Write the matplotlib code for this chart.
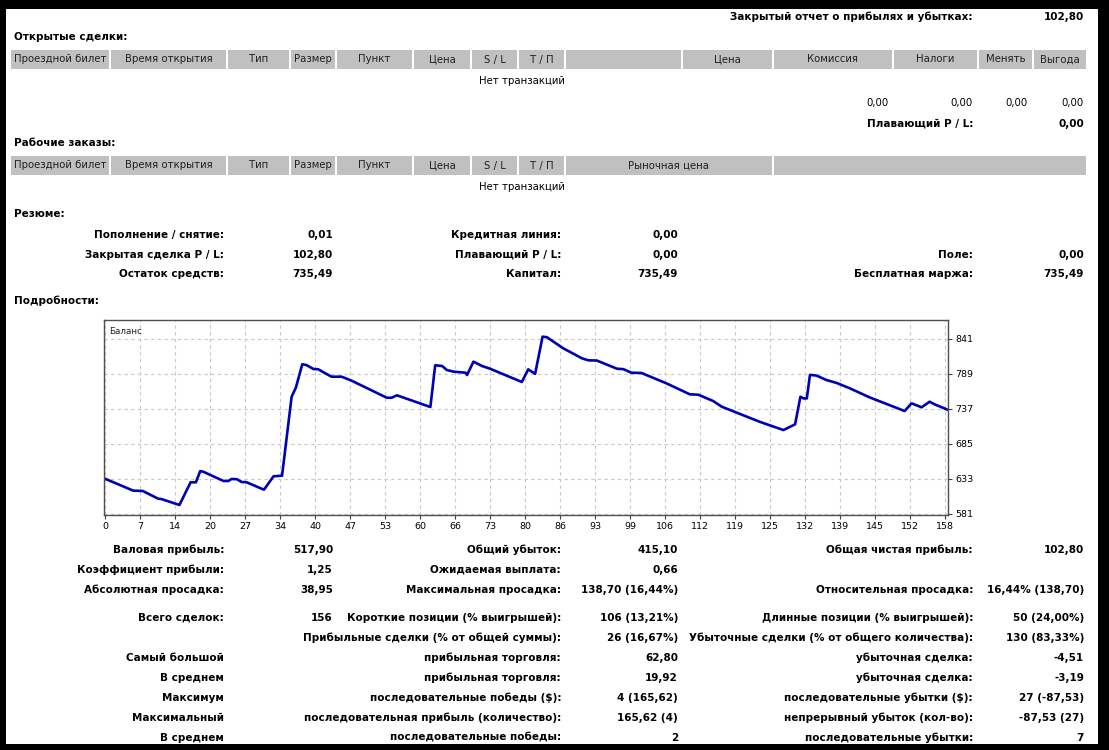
import matplotlib
matplotlib.use('Agg')
import matplotlib.pyplot as plt
from matplotlib.patches import Rectangle

plt.rcParams['font.family'] = ['DejaVu Sans']

W, H = 1109, 750

# кривая баланса: номер сделки и баланс
balance_x = [0, 5.3, 7.1, 10, 10.6, 14, 16.1, 17.1, 17.9, 18.5, 22.3, 23.2, 23.8, 24.8,
             25.7, 26.6, 29.9, 31.7, 33.3, 35.1, 35.9, 37.1, 37.9, 39.2, 40.1, 41.1,
             42.6, 44.5, 46.4, 53.0, 53.9, 54.9, 55.5, 61.2, 62.1, 63.4, 64.3, 65.6,
             67.8, 68.1, 69.3, 70.9, 72.4, 78.4, 79.6, 80.9, 82.3, 83.1, 86.2, 89.7,
             90.9, 92.5, 96.3, 97.5, 99, 100.9, 105.6, 110.0, 111.6, 114.4, 116.0,
             123.1, 127.6, 129.8, 130.8, 131.4, 132.0, 132.6, 133.8, 135.7, 137.6,
             140.1, 143.8, 150.4, 151.7, 153.6, 155.1, 156.1, 158.4]
balance_y = [632.7, 615, 614.5, 603, 602.5, 593.7, 627.4, 627.4, 644, 643, 629.3, 629.3,
             632.3, 632, 627.8, 627.5, 616.4, 636.3, 637.2, 754.5, 768, 802.7, 801.5,
             795.7, 795.3, 790.8, 784.3, 784.3, 778.3, 753.0, 753.0, 756.6, 755, 739.2,
             801.2, 800.2, 794.2, 791.7, 790.2, 786.8, 806.6, 800.2, 796.2, 776.4, 795.2,
             788.5, 843.7, 843, 826.4, 811.6, 808.6, 808.3, 796.1, 795.5, 790.2, 789.8,
             774.4, 758.1, 757.5, 748.1, 739.7, 717.4, 705, 713.5, 754.5, 752, 752, 787,
             786, 779.3, 775, 767, 753.6, 733.3, 744.7, 738.8, 747.1, 743, 735.5]

x_tick_labels = ['0', '7', '14', '20', '27', '34', '40', '47', '53', '60', '66', '73', '80',
                 '86', '93', '99', '106', '112', '119', '125', '132', '139', '145', '152', '158']
y_ticks = [581, 633, 685, 737, 789, 841]

open_cols = ['Проездной билет', 'Время открытия', 'Тип', 'Размер', 'Пункт', 'Цена', 'S / L',
             'T / П', '', 'Цена', 'Комиссия', 'Налоги', 'Менять', 'Выгода']
open_totals = ['0,00', '0,00', '0,00', '0,00']
order_cols = ['Проездной билет', 'Время открытия', 'Тип', 'Размер', 'Пункт', 'Цена', 'S / L',
              'T / П', 'Рыночная цена', '']

closed_report = ('Закрытый отчет о прибылях и убытках:', '102,80')
floating_row = ('Плавающий P / L:', '0,00')

summary_a = [('Пополнение / снятие:', '0,01'), ('Закрытая сделка P / L:', '102,80'),
             ('Остаток средств:', '735,49')]
summary_b = [('Кредитная линия:', '0,00'), ('Плавающий P / L:', '0,00'), ('Капитал:', '735,49')]
summary_c = [('', ''), ('Поле:', '0,00'), ('Бесплатная маржа:', '735,49')]

stats_a_lab = ['Валовая прибыль:', 'Коэффициент прибыли:', 'Абсолютная просадка:', 'Всего сделок:',
               '', 'Самый большой', 'В среднем', 'Максимум', 'Максимальный', 'В среднем']
stats_a_val = ['517,90', '1,25', '38,95', '156', '', '', '', '', '', '']
stats_b_lab = ['Общий убыток:', 'Ожидаемая выплата:', 'Максимальная просадка:',
               'Короткие позиции (% выигрышей):', 'Прибыльные сделки (% от общей суммы):',
               'прибыльная торговля:', 'прибыльная торговля:', 'последовательные победы ($):',
               'последовательная прибыль (количество):', 'последовательные победы:']
stats_b_val = ['415,10', '0,66', '138,70 (16,44%)', '106 (13,21%)', '26 (16,67%)', '62,80',
               '19,92', '4 (165,62)', '165,62 (4)', '2']
stats_c_lab = ['Общая чистая прибыль:', '', 'Относительная просадка:',
               'Длинные позиции (% выигрышей):', 'Убыточные сделки (% от общего количества):',
               'убыточная сделка:', 'убыточная сделка:', 'последовательные убытки ($):',
               'непрерывный убыток (кол-во):', 'последовательные убытки:']
stats_c_val = ['102,80', '', '16,44% (138,70)', '50 (24,00%)', '130 (83,33%)', '-4,51', '-3,19',
               '27 (-87,53)', '-87,53 (27)', '7']

# ---- раскладка ----
FS = 7.5
open_edges = [11, 111, 228, 291, 337, 414, 472, 519, 566, 683, 774, 894, 979, 1034, 1088]
order_edges = [11, 111, 228, 291, 337, 414, 472, 519, 566, 774, 1088]
stats_y = [550, 570, 590, 618, 638, 658, 678, 698, 718, 738]
summary_y = [235, 255, 274]

fig = plt.figure(figsize=(W / 100, H / 100), dpi=100, facecolor='black')
bg = fig.add_axes([0, 0, 1, 1])
bg.set_xlim(0, W)
bg.set_ylim(H, 0)
bg.axis('off')
bg.add_patch(Rectangle((6, 9), 1092, 735, facecolor='white', edgecolor='none'))


def txt(x, y, s, ha='right', bold=True, color='black', size=FS):
    if s:
        bg.text(x, y, s, ha=ha, va='center', fontsize=size, color=color,
                fontweight='bold' if bold else 'normal')


def header_band(edges, labels, top, h=19):
    for i, lab in enumerate(labels):
        x0, x1 = edges[i], edges[i + 1]
        bg.add_patch(Rectangle((x0, top), x1 - x0 - 2, h, facecolor='#c0c0c0', edgecolor='none'))
        txt((x0 + x1 - 2) / 2, top + h / 2, lab, ha='center', bold=False, color='#202020', size=7.3)


txt(973, 17, closed_report[0])
txt(1084, 17, closed_report[1])

txt(14, 37, 'Открытые сделки:', ha='left')
header_band(open_edges, open_cols, 50)
txt(522, 81, 'Нет транзакций', ha='center', bold=False, size=7.3)
for x, v in zip([889, 973, 1028, 1084], open_totals):
    txt(x, 103, v, bold=False, size=7.3)
txt(973, 124, floating_row[0])
txt(1084, 124, floating_row[1])

txt(14, 143, 'Рабочие заказы:', ha='left')
header_band(order_edges, order_cols, 156)
txt(522, 187, 'Нет транзакций', ha='center', bold=False, size=7.3)

txt(14, 214, 'Резюме:', ha='left')
for (la, va), (lb, vb), (lc, vc), y in zip(summary_a, summary_b, summary_c, summary_y):
    txt(224, y, la); txt(333, y, va)
    txt(561, y, lb); txt(678, y, vb)
    txt(973, y, lc); txt(1084, y, vc)

txt(14, 301, 'Подробности:', ha='left')

for i, y in enumerate(stats_y):
    txt(224, y, stats_a_lab[i]); txt(333, y, stats_a_val[i])
    txt(561, y, stats_b_lab[i]); txt(678, y, stats_b_val[i])
    txt(973, y, stats_c_lab[i]); txt(1084, y, stats_c_val[i])

# ---- график баланса ----
left, right, top, bottom = 104, 948, 320, 515
ax = fig.add_axes([left / W, 1 - bottom / H, (right - left) / W, (bottom - top) / H])
ax.plot(balance_x, balance_y, color='#0000b4', linewidth=1.9, solid_joinstyle='round')
x_pos = [i * 158 / 24 for i in range(len(x_tick_labels))]
ax.set_xticks(x_pos)
ax.set_xticklabels(x_tick_labels)
ax.set_yticks(y_ticks)
ax.set_xlim(-0.19, 158.56)
ax.set_ylim(578.8, 868.5)
ax.yaxis.tick_right()
ax.tick_params(labelsize=6.8, length=3, width=0.8, colors='#404040', labelcolor='black', pad=2)
ax.grid(True, color='#c8c8c8', linestyle=(0, (3, 3)), linewidth=0.8)
for sp in ax.spines.values():
    sp.set_color('#505050')
    sp.set_linewidth(1.0)
ax.text(0.006, 0.965, 'Баланс', transform=ax.transAxes, ha='left', va='top', fontsize=6.3,
        color='#202020')

fig.savefig('out.png', dpi=100, facecolor='black')
